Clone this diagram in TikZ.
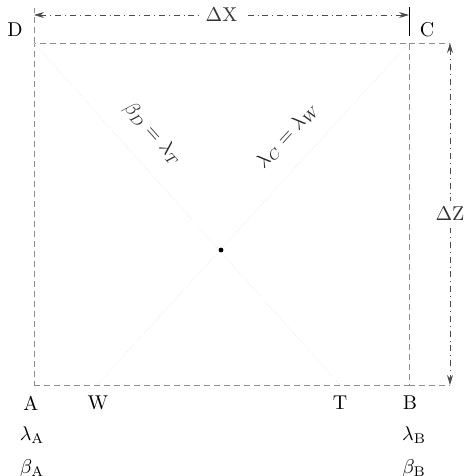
\documentclass[tikz,border=0pt]{standalone}
\usetikzlibrary{arrows.meta}
\tikzset{
  side/.style={densely dashed, black!45, thin},
  dimline/.style={dash dot, black!70, thin},
  diag/.style={densely dotted, black!8, thin},
  tip/.style={{Stealth[length=5pt,width=3pt]}-{Stealth[length=5pt,width=3pt]}},
}
\begin{document}
\begin{tikzpicture}[x=0.5pt, y=-0.5pt]
    \useasboundingbox (0,0) rectangle (470,476) ;
    % corners of the square
    \coordinate (A) at (34,385) ;
    \coordinate (B) at (409,385) ;
    \coordinate (C) at (409,43) ;
    \coordinate (D) at (34,43) ;
    \coordinate (W) at (97,385) ;
    \coordinate (T) at (340,385) ;
    \draw[side] (A) -- (B) -- (C) -- (D) -- cycle ;
    % extension lines
    \coordinate (dxL) at (34,15) ;
    \coordinate (dxR) at (409,15) ;
    \coordinate (dzT) at (450,43) ;
    \coordinate (dzB) at (450,385) ;
    \draw[side] (D) -- (34,8) ;
    \draw[thin] (409,7) -- (409,36) ;
    \draw[side] (C) -- (dzT) ;
    \draw[side] (B) -- (dzB) ;
    % dimensions
    \draw[dimline, tip] (dxL) -- (dxR) node[pos=0.5, fill=white, text=black!80] {$\Delta$X} ;
    \draw[dimline, tip] (dzT) -- (dzB) node[pos=0.5, fill=white, text=black!80] {$\Delta$Z} ;
    % diagonals
    \draw[diag] (D) -- (T) node[pos=0.32, sloped, above=6pt, text=black!85] {$\beta_D = \lambda_T$} ;
    \draw[diag] (C) -- (W) node[pos=0.325, sloped, above=6pt, text=black!85] {$\lambda_C = \lambda_W$} ;
    \fill (221,250) circle (1.2pt) ;
    % labels
    \node (labD) at (15,30) {D} ;
    \node (labC) at (427,30) {C} ;
    \node (labA) at (31,403) {A} ;
    \node (labW) at (98,403) {W} ;
    \node (labT) at (340,403) {T} ;
    \node (labB) at (410,403) {B} ;
    \node (lamA) at (32,435) {$\lambda_{\mathrm{A}}$} ;
    \node (betA) at (32,468) {$\beta_{\mathrm{A}}$} ;
    \node (lamB) at (414,435) {$\lambda_{\mathrm{B}}$} ;
    \node (betB) at (414,468) {$\beta_{\mathrm{B}}$} ;
  \end{tikzpicture}
\end{document}
